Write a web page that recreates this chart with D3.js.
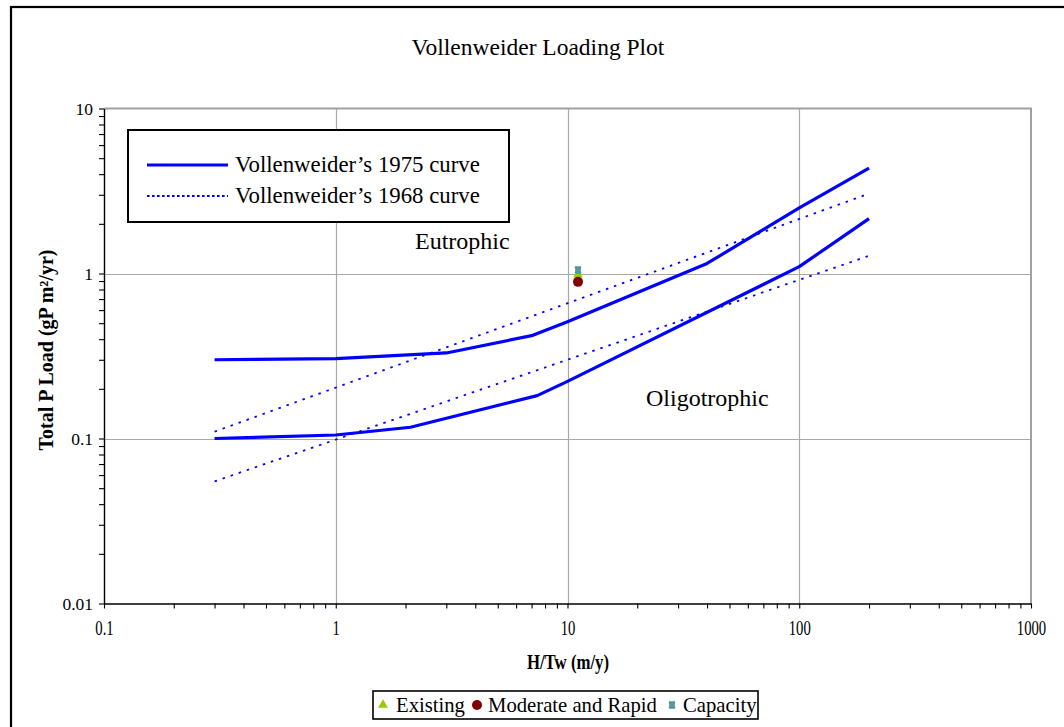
<!DOCTYPE html>
<html>
<head>
<meta charset="utf-8">
<script src="https://cdn.jsdelivr.net/npm/d3@7/dist/d3.min.js"></script>
<style>
  body { margin: 0; background: #fff; }
  text { font-family: "Liberation Serif", "Times New Roman", serif; fill: #000; }
</style>
</head>
<body>
<svg id="chart" width="1064" height="727" font-family="Liberation Serif"></svg>
<script>
// values

// Vollenweider 1975 curves (solid)
var upper1975X = [0.3, 1, 3, 7, 10, 40, 100, 200];
var upper1975Y = [0.30, 0.305, 0.33, 0.42, 0.51, 1.15, 2.5, 4.35];
var lower1975X = [0.3, 1, 2.1, 7.4, 10, 100, 200];
var lower1975Y = [0.10, 0.105, 0.117, 0.182, 0.222, 1.1, 2.15];

// Vollenweider 1968 curves (dotted)
var upper1968X = [0.3, 200];
var upper1968Y = [0.11, 3.05];
var lower1968X = [0.3, 200];
var lower1968Y = [0.055, 1.28];

// scenario points
var scenarioNames = ["Existing", "Moderate and Rapid", "Capacity"];
var scenarioX = [11.1, 11.1, 11.1];
var scenarioY = [0.985, 0.89, 1.05];

var xTicks = [0.1, 1, 10, 100, 1000];
var yTicks = [0.01, 0.1, 1, 10];

var FONT = "Liberation Serif";
var svg = d3.select("#chart");

// outer frame (runs off the right and bottom edge like the original)
svg.append("rect")
  .attr("x", 11).attr("y", 7)
  .attr("width", 1100).attr("height", 760)
  .attr("fill", "none").attr("stroke", "#000").attr("stroke-width", 2.2);

var x = d3.scaleLog().domain([0.1, 1000]).range([104, 1031]);
var y = d3.scaleLog().domain([0.01, 10]).range([603.5, 108.5]);

// minor ticks for each decade
function minors(lo, hi) {
  var out = [];
  for (var e = Math.log10(lo); e < Math.log10(hi); e++) {
    for (var k = 2; k <= 9; k++) out.push(k * Math.pow(10, e));
  }
  return out;
}

// gridlines
var grid = svg.append("g").attr("stroke", "#a8a8a8").attr("stroke-width", 1.2);
grid.selectAll(".gx").data([1, 10, 100]).enter().append("line")
  .attr("x1", function(d) { return Math.round(x(d)) + 0.5; })
  .attr("x2", function(d) { return Math.round(x(d)) + 0.5; })
  .attr("y1", y(10)).attr("y2", y(0.01));
grid.selectAll(".gy").data([0.1, 1]).enter().append("line")
  .attr("y1", function(d) { return Math.round(y(d)) + 0.5; })
  .attr("y2", function(d) { return Math.round(y(d)) + 0.5; })
  .attr("x1", x(0.1)).attr("x2", x(1000));

// plot area border, top and right
svg.append("path")
  .attr("d", "M" + x(0.1) + "," + y(10) + "H" + x(1000) + "V" + y(0.01))
  .attr("fill", "none").attr("stroke", "#a0a0a0").attr("stroke-width", 2);

// axes
var xAxis = d3.axisBottom(x).tickValues(xTicks.concat(minors(0.1, 1000)))
  .tickFormat(function(d) { return xTicks.indexOf(d) >= 0 ? d3.format("~g")(d) : ""; })
  .tickSize(5).tickSizeOuter(0).tickPadding(12);
var gx = svg.append("g").attr("transform", "translate(0," + y(0.01) + ")").call(xAxis)
  .attr("font-family", FONT);
gx.select(".domain").attr("stroke", "#000").attr("stroke-width", 1.4);
gx.selectAll(".tick line").attr("stroke", "#000").attr("stroke-width", 1.1);
// x labels are squeezed horizontally in the original
gx.selectAll(".tick text")
  .attr("font-size", 21)
  .attr("transform", "scale(0.7,1)")
  .attr("x", 0).attr("dy", "0.71em");

var yAxis = d3.axisLeft(y).tickValues(yTicks.concat(minors(0.01, 10)))
  .tickFormat(function(d) { return yTicks.indexOf(d) >= 0 ? d3.format("~g")(d) : ""; })
  .tickSize(5).tickSizeOuter(0).tickPadding(6);
var gy = svg.append("g").attr("transform", "translate(" + x(0.1) + ",0)").call(yAxis)
  .attr("font-family", FONT);
gy.select(".domain").attr("stroke", "#000").attr("stroke-width", 1.4);
gy.selectAll(".tick line").attr("stroke", "#000").attr("stroke-width", 1.1);
gy.selectAll(".tick text").attr("font-size", 17.5);

// curves
var line = d3.line()
  .x(function(d) { return x(d[0]); })
  .y(function(d) { return y(d[1]); });

svg.append("path").datum(d3.zip(upper1968X, upper1968Y))
  .attr("d", line).attr("fill", "none").attr("stroke", "#0000ff")
  .attr("stroke-width", 1.8).attr("stroke-dasharray", "2.5,6");
svg.append("path").datum(d3.zip(lower1968X, lower1968Y))
  .attr("d", line).attr("fill", "none").attr("stroke", "#0000ff")
  .attr("stroke-width", 1.8).attr("stroke-dasharray", "2.5,6");
svg.append("path").datum(d3.zip(upper1975X, upper1975Y))
  .attr("d", line).attr("fill", "none").attr("stroke", "#0000ff")
  .attr("stroke-width", 3.2).attr("stroke-linejoin", "round");
svg.append("path").datum(d3.zip(lower1975X, lower1975Y))
  .attr("d", line).attr("fill", "none").attr("stroke", "#0000ff")
  .attr("stroke-width", 3.2).attr("stroke-linejoin", "round");

// markers
function drawMarker(g, name, cx, cy) {
  if (name == "Existing") {
    g.append("path")
      .attr("d", d3.symbol().type(d3.symbolTriangle).size(42)())
      .attr("transform", "translate(" + cx + "," + cy + ")")
      .attr("fill", "#99cc00");
  } else if (name == "Moderate and Rapid") {
    g.append("circle").attr("cx", cx).attr("cy", cy).attr("r", 5)
      .attr("fill", "#800000");
  } else {
    var s = 3;
    g.append("rect").attr("x", cx - s).attr("y", cy - s)
      .attr("width", 2 * s).attr("height", 2 * s).attr("fill", "#8f8fc8");
    g.append("path")
      .attr("d", "M" + (cx - s) + "," + (cy - s) + "L" + (cx + s) + "," + (cy + s) +
                 "M" + (cx + s) + "," + (cy - s) + "L" + (cx - s) + "," + (cy + s) +
                 "M" + (cx - s) + "," + (cy - s) + "H" + (cx + s) +
                 "M" + (cx - s) + "," + (cy + s) + "H" + (cx + s))
      .attr("stroke", "#3f9f8f").attr("stroke-width", 1.6).attr("fill", "none");
  }
}

var pts = svg.append("g");
scenarioNames.forEach(function(n, i) {
  drawMarker(pts, n, x(scenarioX[i]), y(scenarioY[i]));
});

// region labels
svg.append("text").attr("x", 415).attr("y", 249).attr("font-family", FONT)
  .attr("font-size", 24).text("Eutrophic");
svg.append("text").attr("x", 646).attr("y", 406).attr("font-family", FONT)
  .attr("font-size", 24).text("Oligotrophic");

// title
svg.append("text").attr("x", 538).attr("y", 55).attr("text-anchor", "middle")
  .attr("font-family", FONT).attr("font-size", 23.5).text("Vollenweider Loading Plot");

// axis titles
svg.append("text")
  .attr("transform", "translate(568,669) scale(0.8,1)")
  .attr("text-anchor", "middle").attr("font-family", FONT)
  .attr("font-weight", "bold").attr("font-size", 21)
  .text("H/Tw (m/y)");
svg.append("text")
  .attr("transform", "translate(53,350) rotate(-90)")
  .attr("text-anchor", "middle").attr("font-family", FONT)
  .attr("font-weight", "bold").attr("font-size", 20)
  .text("Total P Load (gP m²/yr)");

// curve legend
var leg = svg.append("g").attr("font-family", FONT);
leg.append("rect").attr("x", 128).attr("y", 130).attr("width", 381).attr("height", 92)
  .attr("fill", "#fff").attr("stroke", "#000").attr("stroke-width", 2);
leg.append("line").attr("x1", 147).attr("x2", 228).attr("y1", 165).attr("y2", 165)
  .attr("stroke", "#0000ff").attr("stroke-width", 3.2);
leg.append("line").attr("x1", 147).attr("x2", 228).attr("y1", 196).attr("y2", 196)
  .attr("stroke", "#0000ff").attr("stroke-width", 2).attr("stroke-dasharray", "2.6,2.4");
leg.append("text").attr("x", 235).attr("y", 172).attr("font-size", 22.8).text("Vollenweider\u2019s 1975 curve");
leg.append("text").attr("x", 235).attr("y", 203).attr("font-size", 22.8).text("Vollenweider\u2019s 1968 curve");

// scenario legend
var leg2 = svg.append("g").attr("font-family", FONT);
leg2.append("rect").attr("x", 373).attr("y", 691).attr("width", 385).attr("height", 28)
  .attr("fill", "#fff").attr("stroke", "#000").attr("stroke-width", 1.6);
var legMarkX = [383, 477, 672];
var legTextX = [396, 488, 683];
scenarioNames.forEach(function(n, i) {
  drawMarker(leg2, n, legMarkX[i], 705);
  leg2.append("text").attr("x", legTextX[i]).attr("y", 712)
    .attr("font-family", FONT).attr("font-size", 20.7).text(n);
});
</script>
</body>
</html>
